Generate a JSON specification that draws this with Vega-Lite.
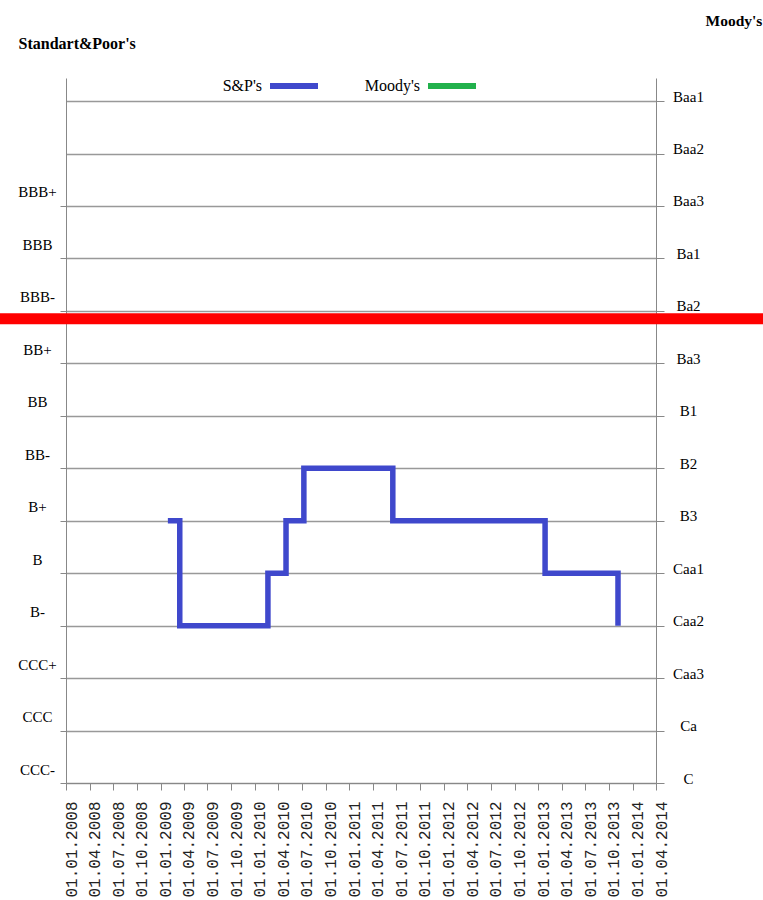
{
  "$schema": "https://vega.github.io/schema/vega-lite/v6.json",
  "width": 590,
  "height": 705,
  "autosize": {"type": "none"},
  "padding": {"left": 66, "top": 78, "right": 107, "bottom": 117},
  "background": "white",
  "config": {
    "view": {"stroke": null},
    "axisX": {
      "format": "%d.%m.%Y", "labelAngle": -90, "tickCount": {"interval": "month", "step": 3},
      "labelFont": "Liberation Mono", "labelFontSize": 16, "labelColor": "#222",
      "tickColor": "#888", "domainColor": "#888", "tickSize": 7, "labelPadding": 11, "labelOffset": 5,
      "grid": false, "labelOverlap": false, "labelFlush": false, "labelBound": false
    }
  },
  "datasets": {
    "sp": [
      {"date": "2009-01-29", "agency": "S&P's", "rating": "B+", "level": 5},
      {"date": "2009-03-16", "agency": "S&P's", "rating": "B-", "level": 3},
      {"date": "2010-02-20", "agency": "S&P's", "rating": "B", "level": 4},
      {"date": "2010-05-01", "agency": "S&P's", "rating": "B+", "level": 5},
      {"date": "2010-07-09", "agency": "S&P's", "rating": "BB-", "level": 6},
      {"date": "2011-06-18", "agency": "S&P's", "rating": "B+", "level": 5},
      {"date": "2013-01-27", "agency": "S&P's", "rating": "B", "level": 4},
      {"date": "2013-11-05", "agency": "S&P's", "rating": "B-", "level": 3}
    ],
    "threshold": [
      {"from": "2007-01-01", "to": "2016-01-01", "level": 8.85}
    ]
  },
  "layer": [
    {
      "data": {"name": "sp", "format": {"parse": {"date": "date:'%Y-%m-%d'"}}},
      "mark": {"type": "line", "interpolate": "step-after", "strokeWidth": 5.5, "strokeJoin": "miter", "strokeCap": "butt"},
      "encoding": {
        "x": {
          "field": "date", "type": "temporal", "title": null,
          "scale": {"domain": [{"year": 2008, "month": 1, "date": 1}, {"year": 2014, "month": 4, "date": 1}]}
        },
        "y": {
          "field": "level", "type": "quantitative",
          "scale": {"domain": [0, 13.44], "nice": false, "zero": false},
          "axis": {
            "orient": "left", "values": [0, 1, 2, 3, 4, 5, 6, 7, 8, 9, 10, 11],
            "labelExpr": "['CCC-','CCC','CCC+','B-','B','B+','BB-','BB','BB+','BBB-','BBB','BBB+'][datum.value]",
            "grid": false, "tickSize": 6, "labelPadding": 23, "labelAlign": "center", "labelOffset": -14,
            "labelFont": "Liberation Serif", "labelFontSize": 15, "labelColor": "#000",
            "domainColor": "#888", "tickColor": "#888",
            "title": "Standart&Poor's", "titleAngle": 0, "titleX": -48, "titleY": -30,
            "titleAlign": "left", "titleBaseline": "alphabetic", "titleFont": "Liberation Serif",
            "titleFontSize": 16, "titleFontWeight": "bold", "titleColor": "#000"
          }
        },
        "color": {
          "field": "agency", "type": "nominal",
          "scale": {"domain": ["S&P's", "Moody's"], "range": ["#3f48cc", "#22b14c"]},
          "legend": {
            "orient": "none", "legendX": 201, "legendY": -19, "direction": "horizontal", "title": null,
            "symbolType": "stroke", "symbolSize": 2304, "symbolStrokeWidth": 6,
            "labelOffset": -59, "labelAlign": "right", "labelFont": "Liberation Serif",
            "labelFontSize": 16, "labelColor": "#000", "columnPadding": 34, "padding": 0
          }
        }
      }
    },
    {
      "data": {"name": "threshold", "format": {"parse": {"from": "date:'%Y-%m-%d'", "to": "date:'%Y-%m-%d'"}}},
      "mark": {"type": "rule", "color": "#ff0000", "strokeWidth": 11, "clip": false},
      "encoding": {
        "x": {"field": "from", "type": "temporal", "title": null,
              "scale": {"domain": [{"year": 2008, "month": 1, "date": 1}, {"year": 2014, "month": 4, "date": 1}]}},
        "x2": {"field": "to"},
        "y": {
          "field": "level", "type": "quantitative",
          "scale": {"domain": [0, 13.44], "nice": false, "zero": false},
          "axis": {
            "orient": "right", "values": [0, 1, 2, 3, 4, 5, 6, 7, 8, 9, 10, 11, 12, 13],
            "labelExpr": "['C','Ca','Caa3','Caa2','Caa1','B3','B2','B1','Ba3','Ba2','Ba1','Baa3','Baa2','Baa1'][datum.value]",
            "grid": true, "gridColor": "#999999", "gridWidth": 1.4,
            "tickSize": 8, "labelPadding": 24, "labelAlign": "center", "labelOffset": -5,
            "labelFont": "Liberation Serif", "labelFontSize": 15, "labelColor": "#000",
            "domainColor": "#888", "tickColor": "#888",
            "title": "Moody's", "titleAngle": 0, "titleX": 49, "titleY": -53,
            "titleAlign": "left", "titleBaseline": "alphabetic", "titleFont": "Liberation Serif",
            "titleFontSize": 15.5, "titleFontWeight": "bold", "titleColor": "#000"
          }
        }
      }
    }
  ],
  "resolve": {"axis": {"y": "independent"}}
}
